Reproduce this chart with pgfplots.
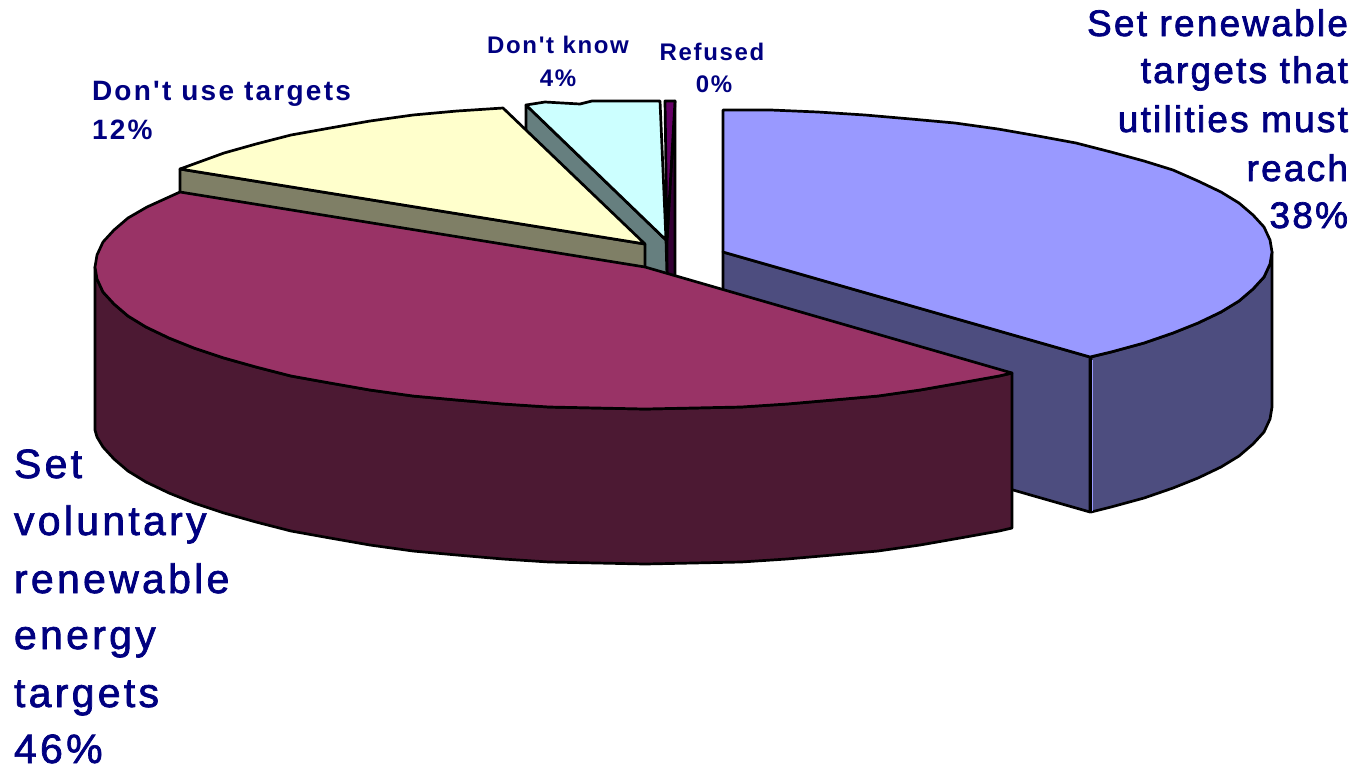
\documentclass[border=0pt]{standalone}
\usepackage{pgfplots}
\pgfplotsset{compat=1.18}
\usepackage{fontspec}
\setmainfont{Liberation Sans}
\newfontfamily\biglab[LetterSpace=8]{Liberation Sans}
\newfontfamily\midlab[LetterSpace=6]{Liberation Sans}
\newfontfamily\smalllab[LetterSpace=7]{Liberation Sans Bold}
\newfontfamily\smallerlab[LetterSpace=8]{Liberation Sans Bold}
\newcommand{\heavy}[1]{\special{pdf:code 2 Tr 0.35 w}#1\special{pdf:code 0 Tr 0 w}}
\definecolor{navytxt}{RGB}{0,0,128}
\definecolor{blueT}{RGB}{153,153,255}
\definecolor{blueS}{RGB}{77,77,127}
\definecolor{redT}{RGB}{153,51,102}
\definecolor{redS}{RGB}{76,25,51}
\definecolor{yelT}{RGB}{255,255,204}
\definecolor{yelS}{RGB}{127,127,102}
\definecolor{cyaT}{RGB}{204,255,255}
\definecolor{cyaS}{RGB}{102,127,127}
\definecolor{purT}{RGB}{102,0,102}
\definecolor{purS}{RGB}{51,0,51}
\tikzset{lab/.style={text=navytxt,inner sep=0pt,outer sep=0pt}}
\begin{document}
\begin{tikzpicture}
\useasboundingbox (0,0) rectangle (677pt,384pt);
\begin{axis}[at={(0,0)},anchor=south west,x=0.5pt,y=0.5pt,y dir=reverse,
  xmin=0,xmax=1354,ymin=0,ymax=768,hide axis,clip=false,
  every axis plot/.append style={draw=black,line width=1.35pt,line join=round,mark=none}]
% blue slice
\addplot[fill=blueS] coordinates {(723,252)(1090,357)(1090,512)(723,407)} --cycle;
\addplot[fill=blueS] coordinates {(1272,252)(1270,264)(1264,277)(1253,289)(1239,301)(1221,312)(1198,323)(1173,333)(1144,343)(1111,352)(1091,357)(1091,512)(1111,507)(1144,498)(1173,488)(1198,478)(1221,467)(1239,456)(1253,444)(1264,432)(1270,419)(1272,407)} --cycle;
\addplot[draw=blueT,line width=0.5pt] coordinates {(1092,360)(1092,511)};
\addplot[fill=blueT] coordinates {(723,252)(723,110)(771,110)(818,112)(865,115)(911,119)(955,123)(998,129)(1038,136)(1076,143)(1111,152)(1144,161)(1173,170)(1198,181)(1221,192)(1239,203)(1253,215)(1264,227)(1270,240)(1272,252)(1270,264)(1264,277)(1253,289)(1239,301)(1221,312)(1198,323)(1173,333)(1144,343)(1111,352)(1090,357)} --cycle;
% refused
\addplot[fill=purS] coordinates {(675,101)(667,240)(667,276)(675,279)} --cycle;
\addplot[fill=purT] coordinates {(665,101)(675,101)(667,240)} --cycle;
% don't know
\addplot[fill=cyaS] coordinates {(526,105)(666,240)(667,276)(526,260)} --cycle;
\addplot[fill=cyaT] coordinates {(526,105)(545,102)(580,104)(592,101)(660,101)(666,240)} --cycle;
% don't use targets
\addplot[fill=yelS] coordinates {(180,169)(645,244)(645,270)(180,195)} --cycle;
\addplot[fill=yelT] coordinates {(645,244)(180,169)(224,153)(256,144)(291,135)(330,128)(370,121)(413,115)(457,111)(503,108)} --cycle;
% voluntary
\addplot[fill=redS] coordinates {(1012,373)(999,376)(960,383)(920,390)(878,396)(833,400)(787,404)(741,407)(693,408)(645,409)(597,408)(549,407)(503,404)(457,400)(413,396)(370,390)(330,383)(291,376)(256,367)(224,358)(194,348)(169,338)(146,327)(128,316)(114,304)(103,292)(97,279)(95,267)(95,430)(97,437)(103,447)(114,459)(128,471)(146,482)(169,493)(194,503)(224,513)(256,522)(291,531)(330,538)(370,545)(413,551)(457,555)(503,559)(549,562)(597,563)(645,564)(693,563)(741,562)(787,559)(833,555)(878,551)(920,545)(960,538)(999,531)(1012,528)} --cycle;
\addplot[fill=redT] coordinates {(645,267)(1012,373)(999,376)(960,383)(920,390)(878,396)(833,400)(787,404)(741,407)(693,408)(645,409)(597,408)(549,407)(503,404)(457,400)(413,396)(370,390)(330,383)(291,376)(256,367)(224,358)(194,348)(169,338)(146,327)(128,316)(114,304)(103,292)(97,279)(95,267)(97,255)(103,242)(114,230)(128,218)(147,207)(180,192)} --cycle;
% labels
\node[lab,anchor=base east] at (axis cs:1348,36) {\fontsize{18.5pt}{20pt}\midlab\heavy{Set renewable}};
\node[lab,anchor=base east] at (axis cs:1348,83) {\fontsize{18.5pt}{20pt}\midlab\heavy{targets that}};
\node[lab,anchor=base east] at (axis cs:1348,132) {\fontsize{18.5pt}{20pt}\midlab\heavy{utilities must}};
\node[lab,anchor=base east] at (axis cs:1348,181) {\fontsize{18.5pt}{20pt}\midlab\heavy{reach}};
\node[lab,anchor=base east] at (axis cs:1348,228) {\fontsize{18.5pt}{20pt}\midlab\heavy{38\%}};
\node[lab,anchor=base west] at (axis cs:14,478) {\fontsize{20.5pt}{22pt}\biglab\heavy{Set}};
\node[lab,anchor=base west] at (axis cs:14,535) {\fontsize{20.5pt}{22pt}\biglab\heavy{voluntary}};
\node[lab,anchor=base west] at (axis cs:14,593) {\fontsize{20.5pt}{22pt}\biglab\heavy{renewable}};
\node[lab,anchor=base west] at (axis cs:14,649) {\fontsize{20.5pt}{22pt}\biglab\heavy{energy}};
\node[lab,anchor=base west] at (axis cs:14,707) {\fontsize{20.5pt}{22pt}\biglab\heavy{targets}};
\node[lab,anchor=base west] at (axis cs:14,763) {\fontsize{20.5pt}{22pt}\biglab\heavy{46\%}};
\node[lab,anchor=base west] at (axis cs:92,100) {\fontsize{14pt}{15pt}\smallerlab Don't use targets};
\node[lab,anchor=base west] at (axis cs:92,139) {\fontsize{14pt}{15pt}\smallerlab 12\%};
\node[lab,anchor=base] at (axis cs:558,53) {\fontsize{12pt}{14pt}\smalllab Don't know};
\node[lab,anchor=base] at (axis cs:558,86) {\fontsize{12pt}{14pt}\smalllab 4\%};
\node[lab,anchor=base] at (axis cs:712,60) {\fontsize{12pt}{14pt}\smalllab Refused};
\node[lab,anchor=base] at (axis cs:714,92) {\fontsize{12pt}{14pt}\smalllab 0\%};
\end{axis}
\end{tikzpicture}
\end{document}
